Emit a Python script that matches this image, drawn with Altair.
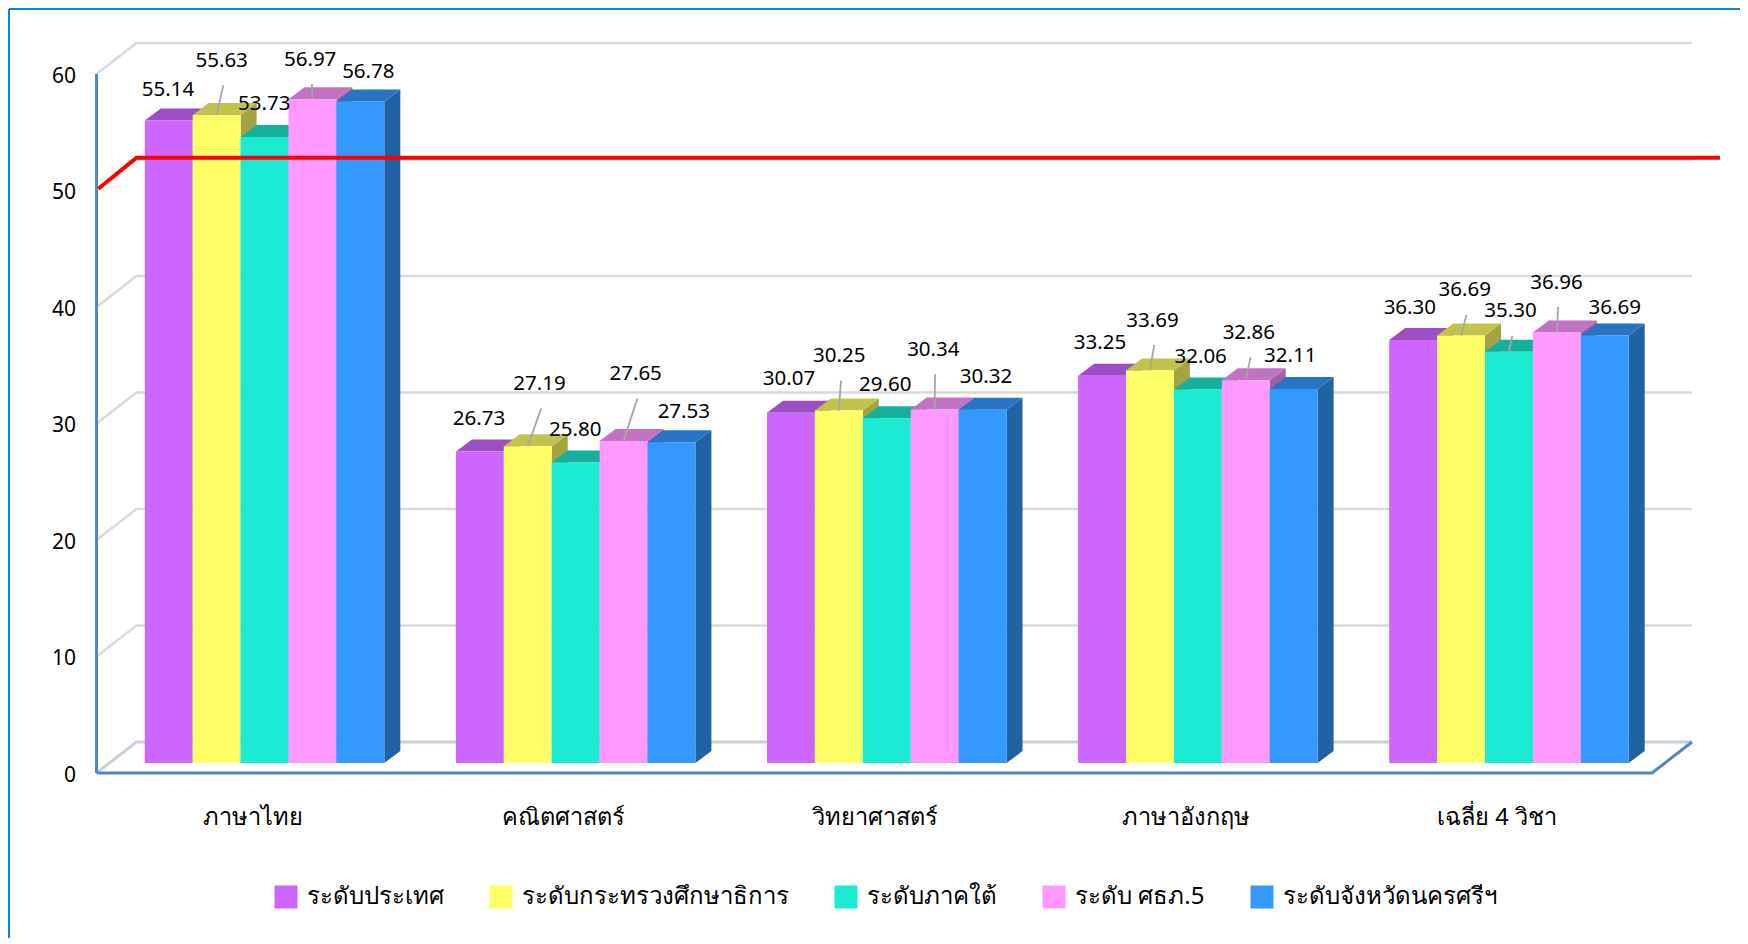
import altair as alt
import pandas as pd

CATEGORIES = ["ภาษาไทย", "คณิตศาสตร์", "วิทยาศาสตร์", "ภาษาอังกฤษ", "เฉลี่ย 4 วิชา"]
SERIES = ["ระดับประเทศ", "ระดับกระทรวงศึกษาธิการ", "ระดับภาคใต้", "ระดับ ศธภ.5", "ระดับจังหวัดนครศรีฯ"]
VALUES = [
    [55.14, 26.73, 30.07, 33.25, 36.30],
    [55.63, 27.19, 30.25, 33.69, 36.69],
    [53.73, 25.80, 29.60, 32.06, 35.30],
    [56.97, 27.65, 30.34, 32.86, 36.96],
    [56.78, 27.53, 30.32, 32.11, 36.69],
]
Y_TICKS = [0, 10, 20, 30, 40, 50, 60]
TARGET = 50.15

FRONT = ["#CC66FF", "#FFFF66", "#1AEBD2", "#FF99FF", "#3399FF"]
TOP = ["#9C4EC3", "#C2C24E", "#14B09C", "#C272C2", "#2874C2"]
SIDE = ["#8241A3", "#A3A341", "#109080", "#A35FA3", "#2062A3"]

# label placement relative to each bar's top, px [category][series]
NUDGE = [
    [(-0.1, -31.4), (5.7, -54.7), (0.4, -33.3), (-1.6, -40.2), (8.7, -30.2)],
    [(-0.1, -33.5), (12.4, -62.7), (0.3, -33.2), (12.8, -67.4), (13.1, -30.9)],
    [(-1.3, -33.7), (1.1, -55.0), (-0.8, -33.6), (-0.6, -60.5), (4.1, -33.0)],
    [(-1.4, -33.4), (3.3, -50.5), (3.5, -32.8), (3.8, -48.0), (-2.7, -33.3)],
    [(-2.6, -32.4), (4.4, -45.7), (2.3, -40.8), (0.3, -50.4), (10.7, -27.9)],
]
LEADERS = {(c, s) for c in range(5) for s in (1, 3)} | {(4, 2)}

# projection: px per unit on each scale, and the depth offsets of the 3D box
PX, PY = 311.1, 11.65
W, H = 1623.5, 731.0
BACK_X, BACK_Y = 40 / PX, 31 / PY
BAR_X0, BAR_W = 48.3 / PX, 47.9 / PX
BAR_BASE = 10 / PY
BAR_DX, BAR_DY = 16 / PX, 12 / PY
FLOOR_END = 5.0
FONT = "Noto Sans"
THAI_FONT = "Noto Sans, DejaVu Sans, sans-serif"

x_scale = alt.Scale(domain=[0, W / PX], nice=False, zero=False)
y_scale = alt.Scale(domain=[0, H / PY], nice=False, zero=False)
names_js = "[" + ",".join(f"'{n}'" for n in CATEGORIES) + "]"
x_axis = alt.Axis(
    values=[i + 0.5 for i in range(5)], labelExpr=f"{names_js}[floor(datum.value)]",
    domain=False, ticks=False, grid=False, labelAngle=0, labelFont=THAI_FONT, labelFontSize=23.6,
    labelColor="#000000", labelPadding=32, labelOverlap=False, labelFlush=False, labelBound=False,
    labelLimit=400)
y_axis = alt.Axis(
    values=Y_TICKS, domain=False, ticks=False, grid=False, labelFont=FONT, labelFontSize=21,
    labelColor="#000000", labelPadding=21, labelOffset=2, labelOverlap=False, labelFlush=False,
    labelBound=False)
X = alt.X("x:Q", scale=x_scale, title=None, axis=x_axis)
Y = alt.Y("y:Q", scale=y_scale, title=None, axis=y_axis)

# faces of the boxes, painted left to right
faces = []
fid = 0
def add_face(fill, pts):
    global fid
    for x, y, y2 in pts:
        faces.append({"fid": fid, "fill": fill, "x": x, "y": y, "y2": y2})
    fid += 1

for c in range(len(CATEGORIES)):
    for s in range(len(SERIES)):
        v = VALUES[s][c] + BAR_BASE
        x0 = c + BAR_X0 + s * BAR_W
        x1 = x0 + BAR_W
        add_face(SIDE[s], [(x1, BAR_BASE, v), (x1 + BAR_DX, BAR_BASE + BAR_DY, v + BAR_DY)])
        add_face(TOP[s], [(x0, v, v), (x0 + BAR_DX, v, v + BAR_DY), (x1, v, v + BAR_DY),
                          (x1 + BAR_DX, v + BAR_DY, v + BAR_DY)])
        add_face(FRONT[s], [(x0, BAR_BASE, v), (x1, BAR_BASE, v)])
faces_df = pd.DataFrame(faces)

faces_layer = alt.Chart(faces_df).mark_area(orient="vertical", strokeWidth=0, opacity=1).encode(
    x=X, y=Y, y2=alt.Y2("y2:Q"),
    color=alt.Color("fill:N", scale=None),
    detail="fid:N",
)

# walls
grid_rows = []
for t in Y_TICKS[1:]:
    grid_rows += [
        {"t": t, "x": 0, "y": t},
        {"t": t, "x": BACK_X, "y": t + BACK_Y},
        {"t": t, "x": FLOOR_END + BACK_X, "y": t + BACK_Y},
    ]
grid_layer = alt.Chart(pd.DataFrame(grid_rows)).mark_line(color="#D9D9D9", strokeWidth=2.5).encode(
    x=X, y=Y, detail="t:N")

floor_back = alt.Chart(pd.DataFrame([
    {"x": 0, "y": 0}, {"x": BACK_X, "y": BACK_Y}, {"x": FLOOR_END + BACK_X, "y": BACK_Y},
])).mark_line(color="#C5CFDF", strokeWidth=3).encode(x=X, y=Y)

floor_front = alt.Chart(pd.DataFrame([
    {"x": FLOOR_END + BACK_X, "y": BACK_Y}, {"x": FLOOR_END, "y": 0}, {"x": 0, "y": 0},
])).mark_line(color="#5585BD", strokeWidth=3).encode(x=X, y=Y)

axis_line = alt.Chart(pd.DataFrame([{"x": 0, "y": 0}, {"x": 0, "y": 60}])).mark_line(
    color="#5585BD", strokeWidth=3).encode(x=X, y=Y, order="y:Q")

target_layer = alt.Chart(pd.DataFrame([
    {"x": 0.006, "y": TARGET}, {"x": BACK_X, "y": TARGET + BACK_Y}, {"x": W / PX, "y": TARGET + BACK_Y},
])).mark_line(color="#FF0000", strokeWidth=4).encode(x=X, y=Y)

# data labels and their leader lines
labels, leaders = [], []
for c in range(len(CATEGORIES)):
    for s in range(len(SERIES)):
        v = VALUES[s][c] + BAR_BASE
        cx = c + BAR_X0 + (s + 0.5) * BAR_W
        nx, ny = NUDGE[c][s]
        lx, ly = cx + nx / PX, v - ny / PY
        labels.append({"x": lx, "y": ly, "label": f"{VALUES[s][c]:.2f}"})
        if (c, s) in LEADERS:
            lid = c * 10 + s
            leaders += [
                {"lid": lid, "x": cx, "y": v},
                {"lid": lid, "x": lx + 1 / PX, "y": ly - 25 / PY},
            ]

leader_layer = alt.Chart(pd.DataFrame(leaders)).mark_line(color="#A6A6A6", strokeWidth=1.8).encode(
    x=X, y=Y, detail="lid:N")
label_layer = alt.Chart(pd.DataFrame(labels)).mark_text(
    font=FONT, fontSize=20.5, color="#000000", align="center", baseline="middle", dx=-0.7, dy=0.5).encode(
    x=X, y=Y, text="label:N")

# legend
legend_layer = alt.Chart(pd.DataFrame({"series": SERIES})).mark_square(opacity=0).encode(
    x=alt.value(0), y=alt.value(0),
    color=alt.Color("series:N", sort=SERIES, scale=alt.Scale(domain=SERIES, range=FRONT), legend=alt.Legend(
        orient="none", legendX=177.5, legendY=843, direction="horizontal", columns=5, title=None,
        symbolType="square", symbolSize=529, symbolOpacity=1, symbolStrokeWidth=0,
        labelFont=THAI_FONT, labelFontSize=24, labelColor="#000000", labelOffset=9, columnPadding=45,
        gridAlign="none", labelLimit=500, padding=0)),
)

# outer frame
frame_top = alt.Chart(pd.DataFrame({"a": [0]})).mark_rule(color="#1480D8", strokeWidth=2).encode(
    x=alt.value(-87.5), x2=alt.value(W + 20), y=alt.value(-33))
frame_left = alt.Chart(pd.DataFrame({"a": [0]})).mark_rule(color="#1480D8", strokeWidth=2).encode(
    x=alt.value(-87.5), y=alt.value(-33), y2=alt.value(H + 165))

chart = alt.layer(
    frame_top, frame_left, grid_layer, floor_back, floor_front, axis_line,
    faces_layer, target_layer, leader_layer, label_layer, legend_layer,
).properties(
    width=W, height=H,
    padding={"left": 88.5, "top": 34, "right": 20, "bottom": 165},
    autosize=alt.AutoSizeParams(type="none"),
    background="#FFFFFF",
).configure_view(stroke=None)

chart.save("out.html", embed_options={"renderer": "svg", "actions": False})
